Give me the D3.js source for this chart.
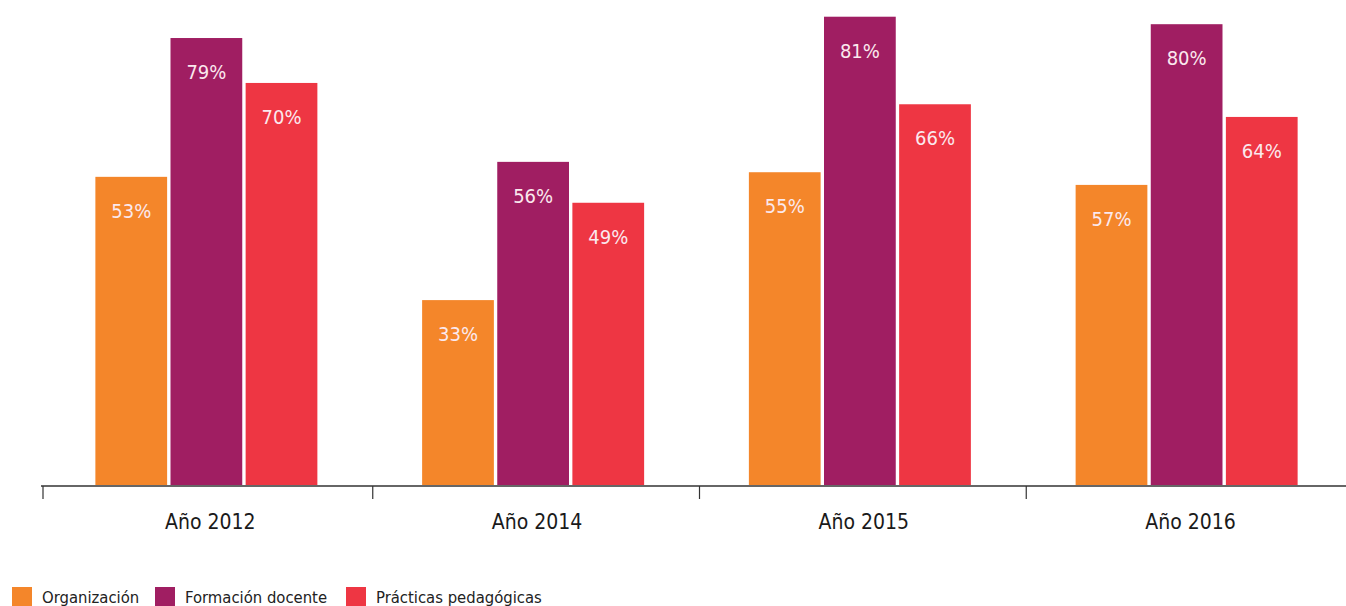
<!DOCTYPE html>
<html><head><meta charset="utf-8">
<script src="https://cdn.jsdelivr.net/npm/d3@7"></script>
<style>
body{margin:0;background:#fff;}
svg text{font-family:"DejaVu Sans Condensed","DejaVu Sans",sans-serif;font-stretch:condensed;}
</style></head>
<body><svg id="c" width="1346" height="606"></svg>
<script>
const categories = ["Año 2012","Año 2014","Año 2015","Año 2016"];
const seriesNames = ["Organización","Formación docente","Prácticas pedagógicas"];
const colors = ["#F4862A","#A01E62","#EE3643"];
// bar heights as drawn (percent)
const organizacion = [53.5, 32.1, 54.3, 52.1];
const formacion = [77.6, 56.1, 81.3, 80.0];
const practicas = [69.8, 49.0, 66.1, 63.9];
// printed labels
const organizacionLabels = ["53%","33%","55%","57%"];
const formacionLabels = ["79%","56%","81%","80%"];
const practicasLabels = ["70%","49%","66%","64%"];

const values = [organizacion, formacion, practicas];
const labels = [organizacionLabels, formacionLabels, practicasLabels];

const svg = d3.select("#c");
const baseY = 485;
const y = d3.scaleLinear().domain([0,100]).range([baseY, baseY-576]);
const x0 = d3.scaleBand().domain(categories).range([43,1350]).paddingInner(0);
const groupW = 222;
const x1 = d3.scaleBand().domain(seriesNames).range([0,groupW]).paddingInner(0.045);

const data = [];
categories.forEach((c,i)=>seriesNames.forEach((s,j)=>data.push({c,s,j,v:values[j][i],l:labels[j][i]})));

const g = svg.append("g");
const gx = c => x0(c) + x0.bandwidth()/2 - groupW/2;
g.selectAll("rect.bar").data(data).join("rect").attr("class","bar")
  .attr("x", d=>gx(d.c)+x1(d.s)).attr("width", x1.bandwidth())
  .attr("y", d=>y(d.v)).attr("height", d=>baseY - y(d.v))
  .attr("fill", d=>colors[d.j]);

g.selectAll("text.val").data(data).join("text").attr("class","val")
  .attr("x", d=>gx(d.c)+x1(d.s)+x1.bandwidth()/2)
  .attr("y", d=>y(d.v)+41)
  .attr("text-anchor","middle").attr("font-size",20).attr("fill","#fbe9ee")
  .text(d=>d.l);

// axis
const axis = d3.axisBottom(x0).tickSize(13).tickSizeOuter(0).tickFormat("");
const ax = svg.append("g").attr("transform",`translate(0,${baseY+1})`).call(axis);
ax.select(".domain").attr("d","M41,0H1346").attr("stroke","#333").attr("stroke-width",1.5);
ax.selectAll(".tick").attr("transform", d=>`translate(${Math.max(41, x0(d)+ (x0(d)>50?3:0))},0)`);
ax.selectAll(".tick line").attr("stroke","#333").attr("stroke-width",1.2);
ax.selectAll(".tick text").remove();
svg.append("g").selectAll("text").data(categories).join("text")
  .attr("x", d=>x0(d)+x0.bandwidth()/2+4).attr("y", 529)
  .attr("text-anchor","middle").attr("font-size",21).attr("fill","#1a1a1a")
  .text(d=>d);

// legend
const legX = [12,155,346];
const leg = svg.append("g").selectAll("g").data(seriesNames).join("g")
  .attr("transform",(d,i)=>`translate(${legX[i]},587)`);
leg.append("rect").attr("width",20).attr("height",19).attr("fill",(d,i)=>colors[i]);
leg.append("text").attr("x",30).attr("y",16).attr("font-size",16.5).attr("fill","#222").text(d=>d);
</script></body></html>
